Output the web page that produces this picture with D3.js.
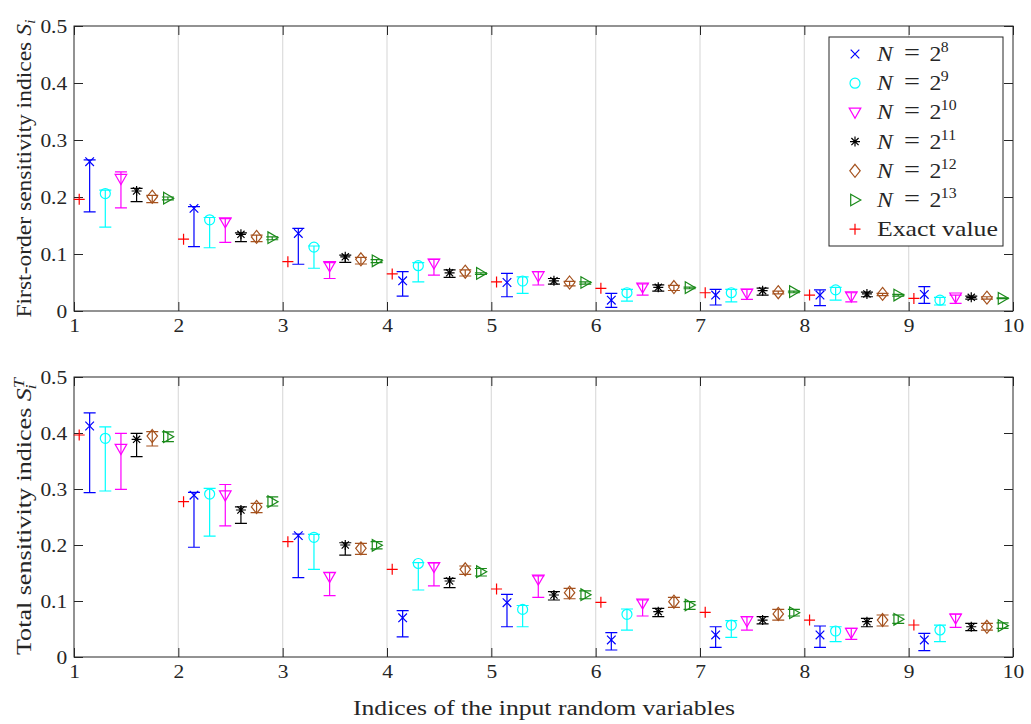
<!DOCTYPE html>
<html>
<head>
<meta charset="utf-8">
<script src="https://cdn.jsdelivr.net/npm/d3@7"></script>
<style>
  body { margin: 0; background: #ffffff; }
  text { font-family: "Liberation Serif", "Times New Roman", serif; fill: #262626; }
</style>
</head>
<body>
<svg id="chart" width="1031" height="724"></svg>
<script>
// ---- data ---------------------------------------------------------------
const variables = [1, 2, 3, 4, 5, 6, 7, 8, 9];
const xTicks = [1, 2, 3, 4, 5, 6, 7, 8, 9, 10];
const yTicks = [0, 0.1, 0.2, 0.3, 0.4, 0.5];
const exponents = [8, 9, 10, 11, 12, 13];
const seriesColors = ["#0000ff", "#00ffff", "#ff00ff", "#000000", "#a5521e", "#1a8a1a"];
const seriesSymbols = ["x", "o", "v", "*", "d", ">"];
const seriesOffsets = [0.15, 0.30, 0.45, 0.60, 0.75, 0.90];
const exactOffset = 0.05;
const exactColor = "#ff0000";

// first-order indices: [estimate, lower, upper] per variable
const firstExact = [0.196, 0.126, 0.0865, 0.065, 0.051, 0.0398, 0.032, 0.028, 0.022];
const firstN8 = [[0.262,0.174,0.265],[0.180,0.113,0.183],[0.136,0.082,0.145],[0.053,0.026,0.069],[0.050,0.025,0.066],[0.019,0.0065,0.031],[0.028,0.0105,0.038],[0.028,0.0094,0.037],[0.029,0.0135,0.0426]];
const firstN9 = [[0.206,0.147,0.212],[0.160,0.111,0.164],[0.112,0.075,0.114],[0.0795,0.051,0.085],[0.0526,0.031,0.060],[0.032,0.0175,0.038],[0.032,0.016,0.038],[0.037,0.019,0.0415],[0.019,0.0105,0.024]];
const firstN10 = [[0.232,0.181,0.244],[0.156,0.1205,0.162],[0.079,0.057,0.085],[0.0836,0.063,0.0907],[0.0614,0.0456,0.069],[0.0415,0.028,0.0474],[0.031,0.0205,0.038],[0.026,0.016,0.032],[0.024,0.0135,0.028]];
const firstN11 = [[0.2105,0.192,0.215],[0.1345,0.1216,0.137],[0.095,0.0854,0.098],[0.067,0.059,0.072],[0.053,0.047,0.057],[0.0415,0.035,0.046],[0.0357,0.028,0.040],[0.030,0.025,0.033],[0.024,0.021,0.026]];
const firstN12 = [[0.2005,0.190,0.203],[0.130,0.1216,0.133],[0.0907,0.0825,0.094],[0.069,0.0614,0.072],[0.050,0.044,0.052],[0.042,0.036,0.045],[0.033,0.030,0.035],[0.030,0.027,0.031],[0.0234,0.021,0.025]];
const firstN13 = [[0.198,0.195,0.200],[0.1286,0.125,0.130],[0.088,0.085,0.090],[0.066,0.064,0.067],[0.050,0.047,0.051],[0.041,0.039,0.042],[0.034,0.032,0.035],[0.028,0.026,0.029],[0.0222,0.0215,0.023]];

// total indices: [estimate, lower, upper] per variable
const totalExact = [0.3964, 0.2774, 0.206, 0.1566, 0.1214, 0.0976, 0.0798, 0.066, 0.0571];
const totalN8 = [[0.4125,0.2934,0.436],[0.289,0.196,0.294],[0.2167,0.1417,0.2196],[0.070,0.036,0.0827],[0.097,0.054,0.112],[0.0304,0.0125,0.0434],[0.0393,0.0173,0.054],[0.0393,0.0173,0.0554],[0.0304,0.0113,0.0423]];
const totalN9 = [[0.3905,0.2964,0.411],[0.291,0.216,0.301],[0.2137,0.1566,0.219],[0.167,0.1196,0.1684],[0.085,0.054,0.092],[0.0762,0.048,0.0857],[0.057,0.035,0.0649],[0.0464,0.0274,0.054],[0.0482,0.0274,0.057]];
const totalN10 = [[0.372,0.2994,0.3994],[0.289,0.234,0.308],[0.1434,0.1095,0.1506],[0.161,0.127,0.168],[0.1387,0.1065,0.145],[0.0958,0.0732,0.1018],[0.0643,0.048,0.072],[0.0434,0.0316,0.051],[0.069,0.053,0.0768]];
const totalN11 = [[0.3887,0.3577,0.3994],[0.2625,0.2387,0.268],[0.200,0.182,0.204],[0.1357,0.124,0.1405],[0.1107,0.1018,0.1166],[0.081,0.072,0.087],[0.066,0.059,0.072],[0.063,0.054,0.069],[0.054,0.047,0.060]];
const totalN12 = [[0.3946,0.3768,0.4024],[0.268,0.2577,0.2744],[0.194,0.1833,0.203],[0.1566,0.1476,0.1625],[0.1149,0.104,0.1226],[0.0988,0.0887,0.1066],[0.0768,0.066,0.085],[0.066,0.0554,0.075],[0.054,0.048,0.060]];
const totalN13 = [[0.3934,0.3845,0.402],[0.2774,0.2696,0.286],[0.1994,0.193,0.206],[0.1524,0.1446,0.158],[0.1113,0.104,0.118],[0.0929,0.085,0.099],[0.079,0.0732,0.085],[0.0673,0.060,0.075],[0.056,0.051,0.061]];

// ---- layout -------------------------------------------------------------
const svg = d3.select("#chart");
const axisColor = "#262626";
const gridColor = "#dfdfdf";
const tickFont = 19;
const textStretch = 1.13;   // widen the serif glyphs a little
const x = d3.scaleLinear().domain([1, 10]).range([74, 1013]);

const panels = [
  { top: 26, bottom: 311, exact: firstExact, labelLength: 298,
    series: [firstN8, firstN9, firstN10, firstN11, firstN12, firstN13],
    label: [{ t: "First-order sensitivity indices " }, { t: "S", italic: true }, { t: "i", italic: true, sub: true }] },
  { top: 377, bottom: 657, exact: totalExact, labelLength: 276,
    series: [totalN8, totalN9, totalN10, totalN11, totalN12, totalN13],
    label: [{ t: "Total sensitivity indices " }, { t: "S", italic: true }, { t: "T", italic: true, sup: true }, { t: "i", italic: true, subAfterSup: true }] }
];

// marker outlines centred at the origin
function symbolPath(type) {
  switch (type) {
    case "x": { const h = 4.3; return `M${-h},${-h}L${h},${h}M${-h},${h}L${h},${-h}`; }
    case "+": { const h = 5.5; return `M${-h},0L${h},0M0,${-h}L0,${h}`; }
    case "*": { const h = 5, d = 3.6; return `M${-h},0L${h},0M0,${-h}L0,${h}M${-d},${-d}L${d},${d}M${-d},${d}L${d},${-d}`; }
    case "o": { const r = 5; return `M${r},0A${r},${r} 0 1,1 ${-r},0A${r},${r} 0 1,1 ${r},0Z`; }
    case "v": return "M-5.8,-4.3L5.8,-4.3L0,5.8Z";
    case ">": return "M-4.3,-5.8L-4.3,5.8L5.8,0Z";
    case "d": return "M0,-6.5L5.2,0L0,6.5L-5.2,0Z";
  }
}

const fmt = d => String(+d.toFixed(1));
const capHalf = 6;

panels.forEach(p => {
  const y = d3.scaleLinear().domain([0, 0.5]).range([p.bottom, p.top]);
  const g = svg.append("g");

  // vertical grid
  g.append("g").selectAll("line").data(xTicks.slice(1, -1)).join("line")
    .attr("x1", d => x(d)).attr("x2", d => x(d))
    .attr("y1", p.top).attr("y2", p.bottom)
    .attr("stroke", gridColor).attr("stroke-width", 1.3);

  // axes with inward ticks on all four sides
  const styleAxis = sel => {
    sel.selectAll(".domain").remove();
    sel.selectAll(".tick line").attr("stroke", axisColor).attr("stroke-width", 1);
    sel.selectAll(".tick text").attr("font-size", tickFont).attr("fill", axisColor)
      .attr("transform", `scale(${textStretch},1)`)
      .style("font-family", '"Liberation Serif", serif');
  };
  g.append("g").attr("transform", `translate(0,${p.bottom})`)
    .call(d3.axisBottom(x).tickValues(xTicks).tickFormat(d3.format("d")).tickSizeInner(-9).tickSizeOuter(0).tickPadding(8))
    .call(styleAxis);
  g.append("g").attr("transform", `translate(0,${p.top})`)
    .call(d3.axisTop(x).tickValues(xTicks).tickFormat("").tickSizeInner(-9).tickSizeOuter(0))
    .call(styleAxis);
  g.append("g").attr("transform", `translate(${x(1)},0)`)
    .call(d3.axisLeft(y).tickValues(yTicks).tickFormat(fmt).tickSizeInner(-9).tickSizeOuter(0).tickPadding(6))
    .call(styleAxis);
  g.append("g").attr("transform", `translate(${x(10)},0)`)
    .call(d3.axisRight(y).tickValues(yTicks).tickFormat("").tickSizeInner(-9).tickSizeOuter(0))
    .call(styleAxis);
  g.append("rect").attr("x", x(1)).attr("y", p.top)
    .attr("width", x(10) - x(1)).attr("height", p.bottom - p.top)
    .attr("fill", "none").attr("stroke", axisColor).attr("stroke-width", 1);

  // error bars and estimates for each sample size
  p.series.forEach((vals, k) => {
    const color = seriesColors[k];
    const sg = g.append("g").attr("stroke", color).attr("fill", "none").attr("stroke-width", 1.2);
    const rows = vals.map((v, i) => ({ xv: variables[i] + seriesOffsets[k], est: v[0], lo: v[1], hi: v[2] }));
    sg.selectAll("path.bar").data(rows).join("path").attr("class", "bar")
      .attr("d", r => {
        const cx = x(r.xv), y0 = y(r.lo), y1 = y(r.hi);
        return `M${cx},${y0}L${cx},${y1}M${cx - capHalf},${y0}L${cx + capHalf},${y0}M${cx - capHalf},${y1}L${cx + capHalf},${y1}`;
      });
    sg.selectAll("path.mk").data(rows).join("path").attr("class", "mk")
      .attr("transform", r => `translate(${x(r.xv)},${y(r.est)})`)
      .attr("d", symbolPath(seriesSymbols[k]));
  });

  // exact values
  g.append("g").attr("stroke", exactColor).attr("fill", "none").attr("stroke-width", 1.2)
    .selectAll("path").data(p.exact).join("path")
    .attr("transform", (v, i) => `translate(${x(variables[i] + exactOffset)},${y(v)})`)
    .attr("d", symbolPath("+"));

  // y-axis title
  const cy = (p.top + p.bottom) / 2;
  const t = svg.append("text").attr("transform", `translate(31,${cy}) rotate(-90)`)
    .attr("text-anchor", "middle").attr("font-size", 20)
    .attr("textLength", p.labelLength).attr("lengthAdjust", "spacingAndGlyphs");
  p.label.forEach(part => {
    const ts = t.append("tspan").text(part.t);
    if (part.italic) ts.attr("font-style", "italic");
    if (part.sub) ts.attr("font-size", 14).attr("dy", "0.3em");
    if (part.sup) ts.attr("font-size", 14).attr("dy", "-0.5em");
    if (part.subAfterSup) ts.attr("font-size", 14).attr("dy", "0.85em").attr("dx", -8);
  });
});

// x-axis title
svg.append("text").attr("x", 544).attr("y", 715).attr("text-anchor", "middle")
  .attr("font-size", 20).attr("textLength", 382).attr("lengthAdjust", "spacingAndGlyphs")
  .text("Indices of the input random variables");

// legend
const legend = svg.append("g");
legend.append("rect").attr("x", 829).attr("y", 37).attr("width", 174).attr("height", 209)
  .attr("fill", "#ffffff").attr("stroke", axisColor).attr("stroke-width", 1);
const legendRows = exponents.map((e, k) => ({ color: seriesColors[k], sym: seriesSymbols[k], exp: e }))
  .concat([{ color: exactColor, sym: "+", exp: null }]);
legendRows.forEach((r, k) => {
  const ry = 54 + k * 29.2;
  legend.append("path").attr("transform", `translate(855,${ry})`)
    .attr("d", symbolPath(r.sym)).attr("fill", "none").attr("stroke", r.color).attr("stroke-width", 1.2);
  const tx = legend.append("text").attr("transform", `translate(877,${ry + 7}) scale(${textStretch},1)`)
    .attr("font-size", 21);
  if (r.exp === null) {
    tx.attr("textLength", 107).attr("lengthAdjust", "spacingAndGlyphs").text("Exact value");
  } else {
    tx.append("tspan").attr("x", 0).attr("font-style", "italic").text("N");
    tx.append("tspan").attr("x", 24).attr("font-size", 25).text("=");
    tx.append("tspan").attr("x", 46.5).text("2");
    tx.append("tspan").attr("x", 56.5).attr("dy", -9).attr("font-size", 14).text(String(r.exp));
  }
});
</script>
</body>
</html>
